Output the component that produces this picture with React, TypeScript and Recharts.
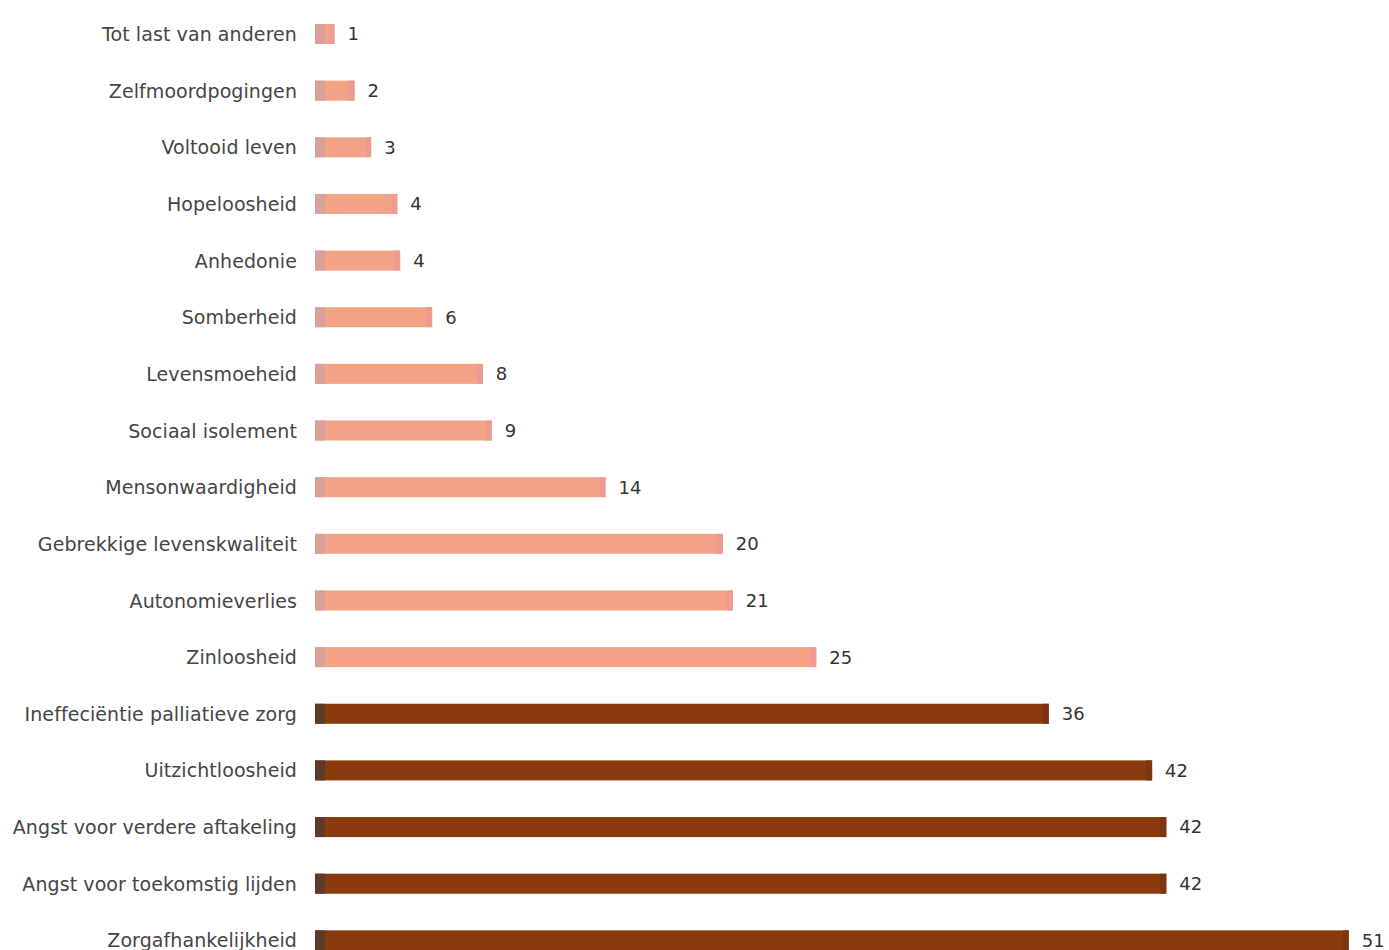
import { Bar, BarChart, XAxis, YAxis, Cell, LabelList } from "recharts"

// categories, top to bottom
const categories = [
  "Tot last van anderen",
  "Zelfmoordpogingen",
  "Voltooid leven",
  "Hopeloosheid",
  "Anhedonie",
  "Somberheid",
  "Levensmoeheid",
  "Sociaal isolement",
  "Mensonwaardigheid",
  "Gebrekkige levenskwaliteit",
  "Autonomieverlies",
  "Zinloosheid",
  "Ineffeciëntie palliatieve zorg",
  "Uitzichtloosheid",
  "Angst voor verdere aftakeling",
  "Angst voor toekomstig lijden",
  "Zorgafhankelijkheid",
]

// bar lengths as drawn in the picture
const values = [0.96, 1.95, 2.77, 4.06, 4.2, 5.78, 8.28, 8.72, 14.33, 20.12, 20.61, 24.73, 36.2, 41.3, 42.0, 42.0, 51]

// numbers printed next to the bars
const valueLabels = ["1", "2", "3", "4", "4", "6", "8", "9", "14", "20", "21", "25", "36", "42", "42", "42", "51"]

// which bars belong to the dark group
const darkGroup = [false, false, false, false, false, false, false, false, false, false, false, false, true, true, true, true, true]

const LIGHT = "#f2a386"
const DARK = "#8a3a0c"

const data = categories.map((name, i) => ({
  name,
  value: values[i],
  label: valueLabels[i],
  dark: darkGroup[i],
}))

function BarShape(props: any) {
  const { x, y, width, height, payload } = props
  const dark = payload && payload.dark
  const main = dark ? DARK : LIGHT
  const edge = dark ? "#5e3a2c" : "#d9a19c"
  const tip = dark ? "#7c3512" : "#ee9a92"
  const edgeW = Math.min(10, width)
  return (
    <g>
      <rect x={x} y={y} width={width} height={height} fill={main} />
      <rect x={x + width - Math.min(6, width)} y={y} width={Math.min(6, width)} height={height} fill={tip} />
      <rect x={x} y={y} width={edgeW} height={height} fill={edge} />
    </g>
  )
}

export default function App() {
  return (
    <div style={{ position: "absolute", left: 0, top: 0, width: 1389, height: 950, overflow: "hidden", background: "#fff" }}>
      <BarChart
        width={1389}
        height={969}
        data={data}
        layout="vertical"
        margin={{ top: 6, right: 20, bottom: 0, left: 0 }}
        barSize={20}
      >
        <XAxis type="number" domain={[0, 52]} hide />
        <YAxis
          type="category"
          dataKey="name"
          width={315}
          axisLine={false}
          tickLine={false}
          tickSize={0}
          tickMargin={18}
          interval={0}
          tick={{ fill: "#454545", fontSize: 19, fontFamily: "DejaVu Sans", letterSpacing: 0.08 }}
        />
        <Bar dataKey="value" isAnimationActive={false} shape={<BarShape />}>
          {data.map((d, i) => (
            <Cell key={i} fill={d.dark ? DARK : LIGHT} />
          ))}
          <LabelList
            dataKey="label"
            position="right"
            offset={13}
            fill="#333333"
            fontSize={18}
            fontFamily="DejaVu Sans"
          />
        </Bar>
      </BarChart>
    </div>
  )
}
